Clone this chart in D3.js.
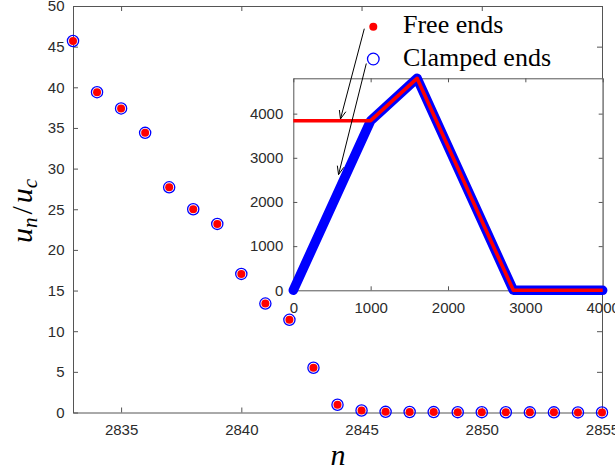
<!DOCTYPE html>
<html>
<head>
<meta charset="utf-8">
<script src="https://cdn.jsdelivr.net/npm/d3@7"></script>
<style>
  html, body { margin: 0; padding: 0; background: #fff; }
  svg { display: block; }
</style>
</head>
<body>
<svg id="chart" width="615" height="472"></svg>
<script>
// ---- main panel: u_n / u_c near the front ----
const siteN = [2833, 2834, 2835, 2836, 2837, 2838, 2839, 2840, 2841, 2842, 2843, 2844,
               2845, 2846, 2847, 2848, 2849, 2850, 2851, 2852, 2853, 2854, 2855];
const freeEnds = [45.7, 39.4, 37.4, 34.4, 27.7, 25.0, 23.2, 17.05, 13.4, 11.4, 5.5, 0.95,
                  0.25, 0.08, 0.06, 0.05, 0.04, 0.04, 0.03, 0.02, 0.02, 0.01, 0.01];
const clampedEnds = [45.7, 39.4, 37.4, 34.4, 27.7, 25.0, 23.2, 17.05, 13.4, 11.4, 5.5, 0.95,
                     0.25, 0.08, 0.06, 0.05, 0.04, 0.04, 0.03, 0.02, 0.02, 0.01, 0.01];
const mainXTicks = [2835, 2840, 2845, 2850, 2855];
const mainYTicks = [0, 5, 10, 15, 20, 25, 30, 35, 40, 45, 50];

// ---- inset: full chain profile ----
const insetN = [0, 1000, 1600, 2845, 4000];
const insetFree = [3840, 3840, 4800, 0, 0];
const insetClamped = [0, 3840, 4800, 0, 0];
const insetXTicks = [0, 1000, 2000, 3000, 4000];
const insetYTicks = [0, 1000, 2000, 3000, 4000];

const seriesNames = ["Free ends", "Clamped ends"];

const RED = "#ff0000", BLUE = "#0000ff", AXIS = "#555555", LABEL = "#2b2b2b";
const svg = d3.select("#chart");

// scales
const x = d3.scaleLinear().domain([2833, 2855]).range([73, 602]);
const y = d3.scaleLinear().domain([0, 50]).range([412.5, 6]);
const ix = d3.scaleLinear().domain([0, 4000]).range([293.3, 602.7]);
const iy = d3.scaleLinear().domain([0, 4800]).range([290.3, 78.3]);

function styleAxis(g, labelSize) {
  g.select(".domain").attr("stroke", AXIS).attr("stroke-width", 1);
  g.selectAll(".tick line").attr("stroke", AXIS).attr("stroke-width", 1);
  g.selectAll(".tick text").attr("fill", LABEL)
    .style("font-family", "'Liberation Sans', Arial, sans-serif")
    .style("font-size", labelSize + "px");
}

// boxed axes with inward ticks
function boxAxes(xs, ys, xt, yt, tick, padX, padY) {
  const [x0, x1] = xs.range();
  const [y0, y1] = ys.range();
  const bottom = svg.append("g").attr("transform", `translate(0,${y0})`)
    .call(d3.axisBottom(xs).tickValues(xt).tickSize(-tick).tickSizeOuter(0).tickPadding(padX).tickFormat(d3.format("d")));
  const left = svg.append("g").attr("transform", `translate(${x0},0)`)
    .call(d3.axisLeft(ys).tickValues(yt).tickSize(-tick).tickSizeOuter(0).tickPadding(padY).tickFormat(d3.format("d")));
  const top = svg.append("g").attr("transform", `translate(0,${y1})`)
    .call(d3.axisTop(xs).tickValues(xt).tickSize(-tick).tickSizeOuter(0).tickFormat(""));
  const right = svg.append("g").attr("transform", `translate(${x1},0)`)
    .call(d3.axisRight(ys).tickValues(yt).tickSize(-tick).tickSizeOuter(0).tickFormat(""));
  [bottom, left, top, right].forEach(g => styleAxis(g, 15));
}

// main axes
boxAxes(x, y, mainXTicks, mainYTicks, 5, 12.3, 8.5);

// main markers: clamped (open blue) under free (filled red)
const pts = siteN.map((n, i) => ({ n, free: freeEnds[i], clamped: clampedEnds[i] }));
svg.append("g").selectAll("circle").data(pts).join("circle")
  .attr("cx", d => x(d.n)).attr("cy", d => y(d.clamped)).attr("r", 5.6)
  .attr("fill", "none").attr("stroke", BLUE).attr("stroke-width", 1.3);
svg.append("g").selectAll("circle").data(pts).join("circle")
  .attr("cx", d => x(d.n)).attr("cy", d => y(d.free)).attr("r", 4)
  .attr("fill", RED);

// axis titles
const yLab = svg.append("text")
  .attr("transform", "translate(32,211) rotate(-90)")
  .attr("text-anchor", "middle")
  .attr("fill", "#000")
  .style("font-family", "'Liberation Serif', 'Times New Roman', serif")
  .style("font-size", "30px");
yLab.append("tspan").style("font-style", "italic").text("u");
yLab.append("tspan").style("font-style", "italic").style("font-size", "21px").attr("dy", 5).text("n");
yLab.append("tspan").attr("dy", -5).attr("dx", 3).text("/");
yLab.append("tspan").style("font-style", "italic").attr("dx", 3).text("u");
yLab.append("tspan").style("font-style", "italic").style("font-size", "21px").attr("dy", 5).text("c");

svg.append("text")
  .attr("x", 338).attr("y", 465)
  .attr("text-anchor", "middle")
  .attr("fill", "#000")
  .style("font-family", "'Liberation Serif', 'Times New Roman', serif")
  .style("font-style", "italic")
  .style("font-size", "30px")
  .text("n");

// ---- inset ----
svg.append("rect")
  .attr("x", ix.range()[0]).attr("y", iy.range()[1])
  .attr("width", ix.range()[1] - ix.range()[0])
  .attr("height", iy.range()[0] - iy.range()[1])
  .attr("fill", "#fff");

boxAxes(ix, iy, insetXTicks, insetYTicks, 4, 12, 10);

const insetLine = (vals) => d3.line()
  .x((d, i) => ix(insetN[i]))
  .y(d => iy(d))(vals);

svg.append("path").attr("d", insetLine(insetClamped))
  .attr("fill", "none").attr("stroke", BLUE).attr("stroke-width", 9.5)
  .attr("stroke-linejoin", "round").attr("stroke-linecap", "round");
svg.append("path").attr("d", insetLine(insetFree))
  .attr("fill", "none").attr("stroke", RED).attr("stroke-width", 3.6)
  .attr("stroke-linejoin", "round").attr("stroke-linecap", "butt");

// ---- legend ----
const legendX = 373.3, legendTextX = 403, legendRows = [26.7, 59];
const legend = svg.append("g");
legend.append("circle").attr("cx", legendX).attr("cy", legendRows[0]).attr("r", 4).attr("fill", RED);
legend.append("circle").attr("cx", legendX).attr("cy", legendRows[1]).attr("r", 5.8)
  .attr("fill", "none").attr("stroke", BLUE).attr("stroke-width", 1.3);
legend.selectAll("text").data(seriesNames).join("text")
  .attr("x", legendTextX)
  .attr("y", (d, i) => legendRows[i] + 6.5)
  .attr("fill", "#000")
  .style("font-family", "'Liberation Serif', 'Times New Roman', serif")
  .style("font-size", "26px")
  .text(d => d);

// ---- arrows from legend entries to the inset curves ----
const arrowTargets = [[610, 3880], [585, 2620]];
const arrowTails = [[legendX - 9, legendRows[0] + 2], [legendX - 7, legendRows[1] + 4.5]];
const arrows = svg.append("g").attr("stroke", "#000").attr("stroke-width", 1).attr("fill", "none");
arrowTargets.forEach((t, i) => {
  const hx = ix(t[0]), hy = iy(t[1]);
  const [tx, ty] = arrowTails[i];
  const ang = Math.atan2(hy - ty, hx - tx);
  const L = 9, spread = 0.38;
  arrows.append("line").attr("x1", tx).attr("y1", ty).attr("x2", hx).attr("y2", hy);
  const p1 = [hx - L * Math.cos(ang - spread), hy - L * Math.sin(ang - spread)];
  const p2 = [hx - L * Math.cos(ang + spread), hy - L * Math.sin(ang + spread)];
  arrows.append("path").attr("d", `M${p1[0]},${p1[1]}L${hx},${hy}L${p2[0]},${p2[1]}`);
});
</script>
</body>
</html>
